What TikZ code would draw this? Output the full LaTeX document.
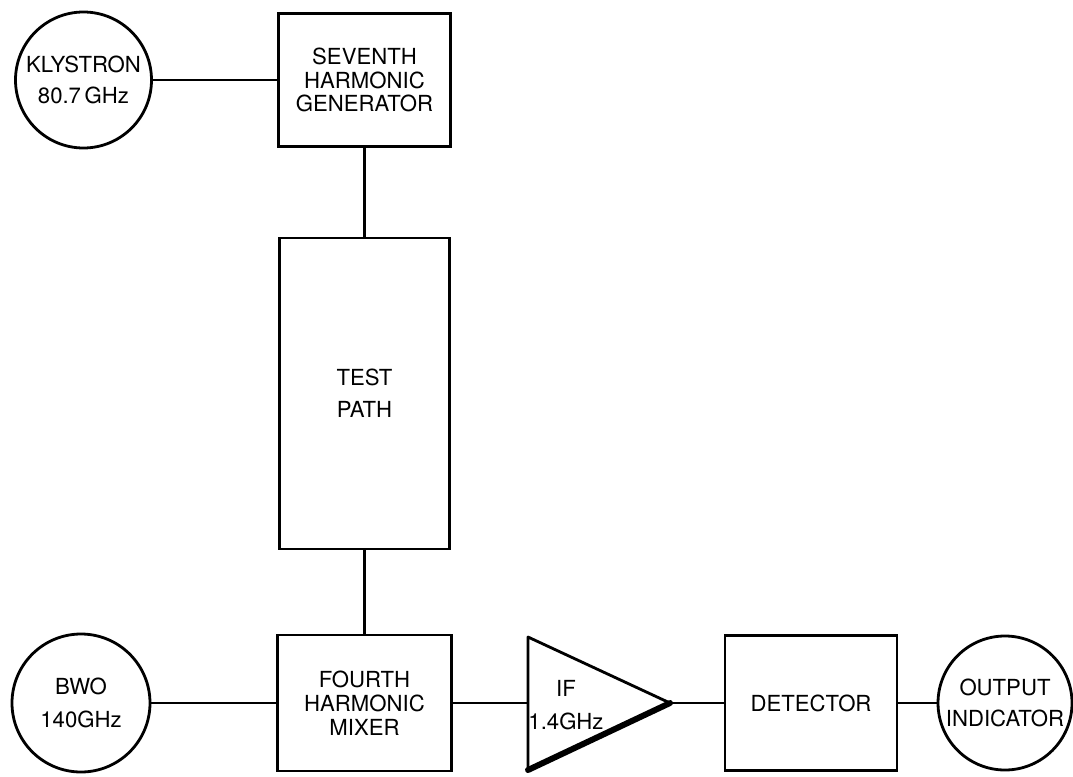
\documentclass[tikz,border=0pt]{standalone}
\usepackage{fontspec}
\setsansfont{TeX Gyre Heros}
\begin{document}
\begin{tikzpicture}[
  every node/.style={font=\sffamily\fontsize{12.6}{13.6}\selectfont, align=center},
  blk/.style={draw, line width=1.6pt, minimum width=3.44cm, minimum height=2.7cm, inner sep=0pt},
  src/.style={draw, circle, line width=1.6pt, minimum size=2.72cm, inner sep=0pt},
  wire/.style={line width=1.2pt}]
  \useasboundingbox (0,0) rectangle (21.46,15.52);
  \node[src] (kly) at (1.67,13.92) {KLYSTRON\\[4.5pt]80.7\,GHz};
  \node[blk, minimum height=2.66cm] (gen) at (7.29,13.92) {SEVENTH\\HARMONIC\\GENERATOR};
  \node[blk, minimum width=3.4cm, minimum height=6.22cm] (path) at (7.29,7.65) {TEST\\[4.5pt]PATH};
  \node[src, minimum size=2.76cm] (bwo) at (1.62,1.46) {BWO\\[5pt]140GHz};
  \node[blk, minimum width=3.48cm, minimum height=2.72cm] (mix) at (7.29,1.46) {FOURTH\\HARMONIC\\MIXER};
  \coordinate (ifin) at (10.56,1.46);
  \coordinate (ift) at (10.56,2.78);
  \coordinate (ifb) at (10.56,0.12);
  \coordinate (ifout) at (13.40,1.46);
  \draw[line width=1.6pt, line join=round] (ifb) -- (ift) -- (ifout);
  \draw[line width=3.4pt, line cap=round] (ifout) -- (ifb);
  \node (iflab) at (11.32,1.42) {IF\\[5.5pt]1.4GHz};
  \node[blk] (det) at (16.22,1.46) {DETECTOR};
  \node[src, minimum size=2.68cm] (out) at (20.10,1.46) {OUTPUT\\[4.5pt]INDICATOR};
  \draw[wire] (kly) -- (gen);
  \draw[wire] (gen) -- (path);
  \draw[wire] (path) -- (mix);
  \draw[wire] (bwo) -- (mix);
  \draw[wire] (mix) -- (ifin);
  \draw[wire] (ifout) -- (det);
  \draw[wire] (det) -- (out);
\end{tikzpicture}
\end{document}
